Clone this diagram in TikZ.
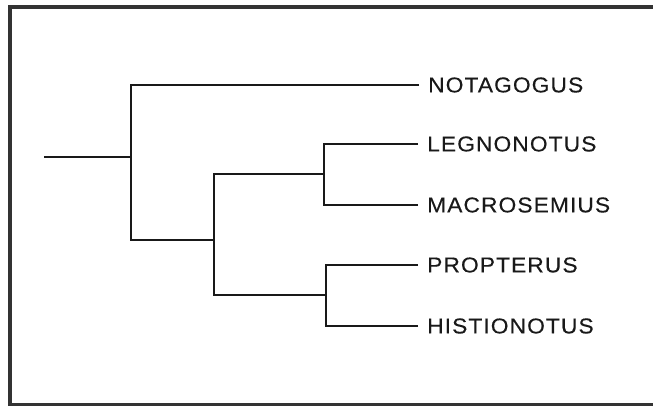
\documentclass[tikz,border=0pt]{standalone}
\usepackage{fontspec}
\setmainfont{Liberation Sans}[FakeStretch=1.06, LetterSpace=5, FakeBold=0.25]
\begin{document}
\begin{tikzpicture}[x=1pt,y=-1pt,
  branch/.style={line width=1.9pt, black!90},
  frame/.style={line width=3.4pt, black!80},
  taxon/.style={anchor=west, inner xsep=9pt, inner ysep=0pt, font=\fontsize{21.5}{25}\selectfont, text=black!90}]
\useasboundingbox (0,0) rectangle (653,408);
\draw[frame] (10,7) rectangle (670,404.5);
\coordinate (root) at (44,157);
\coordinate (n1) at (131,157);
\coordinate (n2) at (214,240);
\coordinate (n3) at (324,174);
\coordinate (n4) at (326,295);
\node[taxon] (nota) at (419,85) {NOTAGOGUS};
\node[taxon] (leg) at (418,144) {LEGNONOTUS};
\node[taxon] (mac) at (418,205) {MACROSEMIUS};
\node[taxon] (prop) at (418,265) {PROPTERUS};
\node[taxon] (hist) at (418,326) {HISTIONOTUS};
\draw[branch] (root) -- (n1);
\draw[branch] (nota.west) -| (n1);
\draw[branch] (n2) -| (n1);
\draw[branch] (n3) -| (n2);
\draw[branch] (n4) -| (n2);
\draw[branch] (leg.west) -| (n3);
\draw[branch] (mac.west) -| (n3);
\draw[branch] (prop.west) -| (n4);
\draw[branch] (hist.west) -| (n4);
\end{tikzpicture}
\end{document}
